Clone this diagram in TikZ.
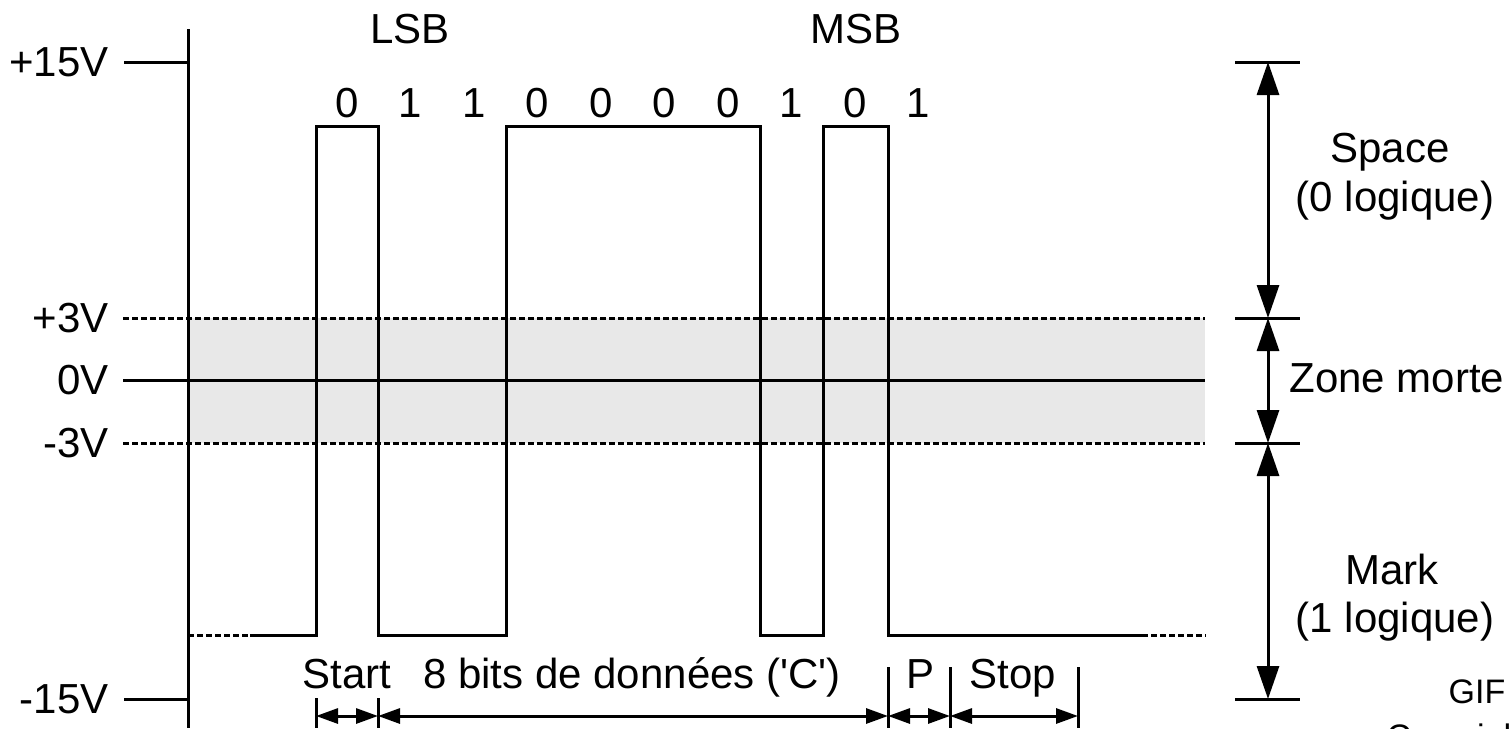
\documentclass[tikz,border=0pt]{standalone}
\usepackage{fontspec}
\setmainfont{Liberation Sans}[Ligatures=TeXOff]
\usetikzlibrary{arrows.meta}
\definecolor{zonegray}{HTML}{E8E8E8}
\begin{document}
\begin{tikzpicture}[x=0.5pt,y=-0.5pt, line width=1.5pt,
  lbl/.style={font=\fontsize{21}{25}\selectfont, inner sep=0pt},
  small/.style={font=\fontsize{17}{20}\selectfont, inner sep=0pt},
  dsh/.style={dash pattern=on 3.2pt off 1.3pt},
  harr/.style={{Triangle[length=11pt,width=7.5pt]}-{Triangle[length=11pt,width=7.5pt]}},
  varr/.style={{Triangle[length=16.5pt,width=11pt]}-{Triangle[length=16.5pt,width=11pt]}}
]
\useasboundingbox (0,0) rectangle (1509,728);
% dead zone
\fill[zonegray] (188,318) rectangle (1205,443);
\draw[dsh] (123,318) -- (1205,318);
\draw (123,380) -- (1205,380);
\draw[dsh] (123,443) -- (1205,443);
% axis
\draw (188,29) -- (188,728);
\draw (124,62) -- (188,62);
\draw (124,699) -- (188,699);
% voltage labels
\node[lbl,anchor=east] (v15) at (110,62) {+15V};
\node[lbl,anchor=east] (v3) at (110,318) {+3V};
\node[lbl,anchor=east] (v0) at (110,380) {0V};
\node[lbl,anchor=east] (vm3) at (110,443) {-3V};
\node[lbl,anchor=east] (vm15) at (110,699) {-15V};
% waveform
\draw[dsh] (188,635) -- (250,635);
\draw (250,635) -- (316,635) -- (316,126) -- (378,126) -- (378,635) -- (506,635) -- (506,126) -- (760,126) -- (760,635) -- (823,635) -- (823,126) -- (888,126) -- (888,635) -- (1142,635);
\draw[dsh] (1142,635) -- (1206,635);
% bit values
\foreach \v [count=\i from 0] in {0,1,1,0,0,0,0,1,0,1} {
  \node[lbl,anchor=base] (bit\i) at ({347+63.5*\i},117) {\v};
}
\node[lbl,anchor=base] (lsb) at (410,43) {LSB};
\node[lbl,anchor=base] (msb) at (856,43) {MSB};
% frame segments
\coordinate (s0) at (316,716);
\coordinate (s1) at (378,716);
\coordinate (s2) at (888,716);
\coordinate (s3) at (950,716);
\coordinate (s4) at (1078,716);
\draw (316,698) -- (316,728);
\draw (378,698) -- (378,728);
\draw (888,667) -- (888,728);
\draw (950,667) -- (950,728);
\draw (1078,667) -- (1078,728);
\draw[harr] (s0) -- (s1);
\draw[harr] (s1) -- (s2);
\draw[harr] (s2) -- (s3);
\draw[harr] (s3) -- (s4);
\node[lbl,anchor=base] (start) at (347,688) {Start};
\node[lbl,anchor=base] (data) at (632,688) {8 bits de données ('C')};
\node[lbl,anchor=base] (par) at (920,688) {P};
\node[lbl,anchor=base] (stop) at (1013,688) {Stop};
% right dimension
\coordinate (r0) at (1268,62);
\coordinate (r1) at (1268,318);
\coordinate (r2) at (1268,443);
\coordinate (r3) at (1268,699);
\draw (1235,62) -- (1300,62);
\draw (1235,318) -- (1300,318);
\draw (1235,443) -- (1300,443);
\draw (1235,699) -- (1300,699);
\draw[varr] (r0) -- (r1);
\draw[varr] (r1) -- (r2);
\draw[varr] (r2) -- (r3);
\node[lbl,anchor=base] (space) at (1390,162) {Space};
\node[lbl,anchor=base] (zero) at (1395,211) {(0 logique)};
\node[lbl,anchor=base west] (zone) at (1288,392) {Zone morte};
\node[lbl,anchor=base] (mark) at (1392,584) {Mark};
\node[lbl,anchor=base] (one) at (1395,632) {(1 logique)};
\node[small,anchor=base] (gif) at (1477,703) {GIF};
\node[small,anchor=base west] (copy) at (1385,748) {Copyright};
\end{tikzpicture}
\end{document}
